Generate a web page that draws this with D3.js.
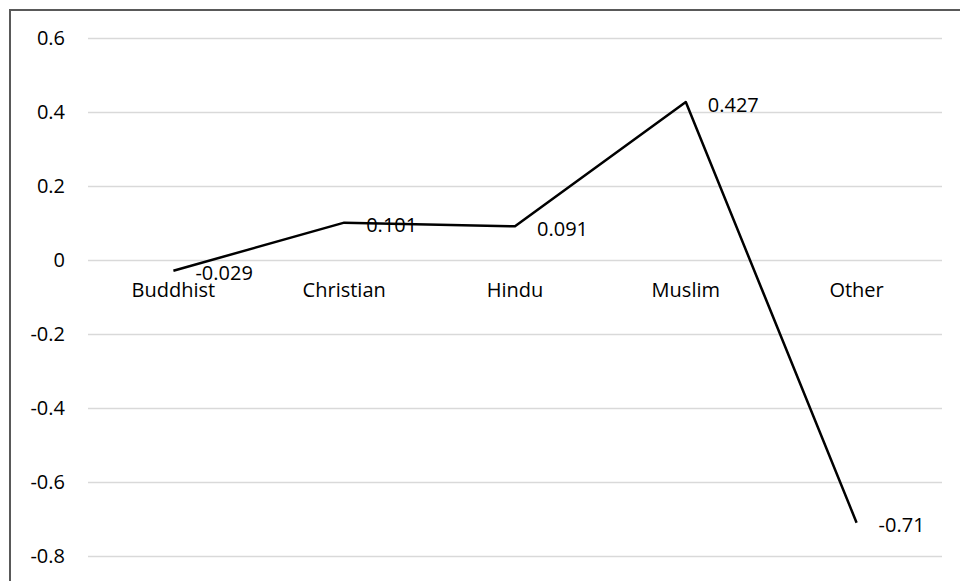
<!DOCTYPE html>
<html>
<head>
<meta charset="utf-8">
<script src="https://cdn.jsdelivr.net/npm/d3@7"></script>
<style>
  html, body { margin: 0; padding: 0; background: #fff; }
  svg { display: block; font-family: "Open Sans", sans-serif; }
</style>
</head>
<body>
<svg id="chart" width="960" height="581"></svg>
<script>
// chart data
const categories = ['Buddhist', 'Christian', 'Hindu', 'Muslim', 'Other'];
const values = [-0.029, 0.101, 0.091, 0.427, -0.71];
const labels = ['-0.029', '0.101', '0.091', '0.427', '-0.71'];
const yTicks = [0.6, 0.4, 0.2, 0, -0.2, -0.4, -0.6, -0.8];

const svg = d3.select('#chart');
const plot = { left: 88, right: 942, top: 38, bottom: 556 };

// outer frame (only top and left are on screen)
svg.append('rect')
  .attr('x', 10).attr('y', 10)
  .attr('width', 1000).attr('height', 1000)
  .attr('fill', 'none')
  .attr('stroke', '#595959')
  .attr('stroke-width', 2);

const x = d3.scaleBand()
  .domain(categories)
  .range([plot.left, plot.right]);

const y = d3.scaleLinear()
  .domain([-0.8, 0.6])
  .range([plot.bottom, plot.top]);

// gridlines + y labels (plain hyphen for negatives, like the source)
const fmt = d => d === 0 ? '0' : d3.format('.1f')(d).replace('\u2212', '-');

const yAxis = d3.axisLeft(y)
  .tickValues(yTicks)
  .tickSize(-(plot.right - plot.left))
  .tickPadding(23)
  .tickFormat(fmt);

const gy = svg.append('g')
  .attr('transform', `translate(${plot.left},0)`)
  .call(yAxis);
gy.select('.domain').remove();
gy.selectAll('.tick line')
  .attr('stroke', '#d9d9d9')
  .attr('stroke-width', 1.5);
gy.selectAll('.tick text')
  .attr('fill', '#000')
  .style('font-size', '20px')
  .style('font-family', '"Open Sans", sans-serif');

// category labels sit under the zero line
svg.append('g')
  .selectAll('text')
  .data(categories)
  .join('text')
  .attr('x', d => x(d) + x.bandwidth() / 2)
  .attr('y', y(0) + 37)
  .attr('text-anchor', 'middle')
  .style('font-size', '20px')
  .attr('fill', '#000')
  .text(d => d);

const points = categories.map((c, i) => ({ cat: c, value: values[i], label: labels[i] }));

const line = d3.line()
  .x(d => x(d.cat) + x.bandwidth() / 2)
  .y(d => y(d.value));

svg.append('path')
  .datum(points)
  .attr('d', line)
  .attr('fill', 'none')
  .attr('stroke', '#000')
  .attr('stroke-width', 2.5)
  .attr('stroke-linejoin', 'round');

// data labels to the right of each point
svg.append('g')
  .selectAll('text')
  .data(points)
  .join('text')
  .attr('x', d => x(d.cat) + x.bandwidth() / 2 + 22)
  .attr('y', d => y(d.value) + 2)
  .attr('dominant-baseline', 'central')
  .style('font-size', '20px')
  .attr('fill', '#000')
  .text(d => d.label);
</script>
</body>
</html>
